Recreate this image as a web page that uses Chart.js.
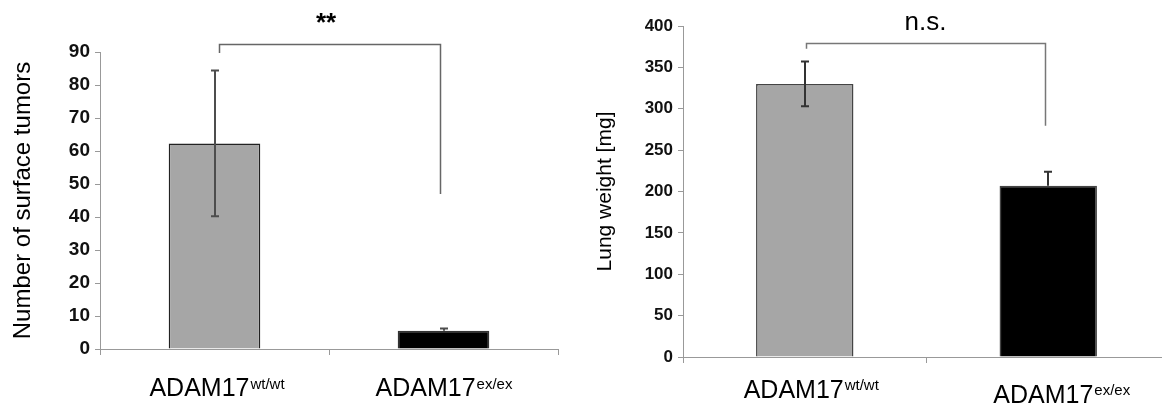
<!DOCTYPE html>
<html>
<head>
<meta charset="utf-8">
<script src="https://cdn.jsdelivr.net/npm/chart.js@4.4.1/dist/chart.umd.min.js"></script>
<style>
  html, body { margin: 0; padding: 0; background: #fff; overflow: hidden; }
  body { width: 1162px; height: 408px; position: relative; }
  .panel { position: absolute; top: 0; height: 408px; }
  #left { left: 0; width: 580px; }
  #right { left: 580px; width: 590px; }
</style>
</head>
<body>
<div class="panel" id="left"><canvas id="tumorChart"></canvas></div>
<div class="panel" id="right"><canvas id="weightChart"></canvas></div>
<script>
// groups and genotypes (drawn as base text + superscript)
const groups = ['ADAM17', 'ADAM17'];
const genotypes = ['wt/wt', 'ex/ex'];
const barColors = ['#a6a6a6', '#000000'];

// surface tumors: mean and error per group
const tumorMeans = [62.3, 5.5];
const tumorErrors = [22.1, 0.7];
const tumorAxis = { min: 0, max: 90, step: 10 };

// lung weight [mg]: mean and error per group
const weightMeans = [330, 207];
const weightErrors = [27, 17];
const weightAxis = { min: 0, max: 400, step: 50 };

const FONT = '"Liberation Sans", Arial, sans-serif';

// error bars, significance bracket and category labels
const extras = {
    id: 'extras',
    afterDatasetsDraw(chart, args, opts) {
        const ctx = chart.ctx;
        const xs = chart.getDatasetMeta(0).data.map(b => b.x);
        const y = chart.scales.y;
        ctx.save();

        ctx.strokeStyle = opts.errorColor;
        ctx.lineWidth = 2;
        opts.means.forEach((m, i) => {
            const top = y.getPixelForValue(m + opts.errors[i]);
            // the lower whisker disappears inside a black bar
            const low = barColors[i] === '#000000' ? m : m - opts.errors[i];
            const bot = y.getPixelForValue(low);
            const x = Math.round(xs[i]);
            ctx.beginPath();
            ctx.moveTo(x, top); ctx.lineTo(x, bot);
            ctx.moveTo(x - 4, top); ctx.lineTo(x + 4, top);
            if (low !== m) { ctx.moveTo(x - 4, bot); ctx.lineTo(x + 4, bot); }
            ctx.stroke();
        });

        const b = opts.bracket;
        const x1 = Math.round(xs[0] + b.dx[0]) + 0.5;
        const x2 = Math.round(xs[1] + b.dx[1]) + 0.5;
        const yTop = Math.round(y.getPixelForValue(b.top)) + 0.5;
        ctx.strokeStyle = b.color;
        ctx.lineWidth = 1.5;
        ctx.beginPath();
        ctx.moveTo(x1, y.getPixelForValue(b.ends[0]));
        ctx.lineTo(x1, yTop);
        ctx.lineTo(x2, yTop);
        ctx.lineTo(x2, y.getPixelForValue(b.ends[1]));
        ctx.stroke();

        ctx.fillStyle = '#000';
        ctx.textAlign = 'center';
        ctx.textBaseline = 'alphabetic';
        ctx.font = b.font;
        ctx.fillText(b.text, (xs[0] + xs[1]) / 2 + b.textDx, y.getPixelForValue(b.textAt));

        const lab = opts.labels;
        ctx.textAlign = 'left';
        groups.forEach((g, i) => {
            ctx.font = lab.font;
            const w1 = ctx.measureText(g).width;
            ctx.font = lab.supFont;
            const w2 = ctx.measureText(genotypes[i]).width;
            const x0 = xs[i] - (w1 + w2) / 2 + lab.dx[i];
            ctx.font = lab.font;
            ctx.fillText(g, x0, lab.baseline[i]);
            ctx.font = lab.supFont;
            ctx.fillText(genotypes[i], x0 + w1 + 1, lab.baseline[i] - lab.raise);
        });
        ctx.restore();
    }
};

function barChart(id, means, errors, axis, yTitle, cfg) {
    return new Chart(document.getElementById(id), {
        type: 'bar',
        data: {
            labels: groups.map((g, i) => g + genotypes[i]),
            datasets: [{
                data: means,
                backgroundColor: barColors,
                borderColor: cfg.barBorders,
                borderWidth: 1.5,
                barPercentage: 0.4,
                categoryPercentage: 1
            }]
        },
        options: {
            responsive: true,
            maintainAspectRatio: false,
            animation: false,
            layout: { padding: { top: cfg.top, right: cfg.right, left: 0, bottom: 0 } },
            plugins: {
                legend: { display: false },
                tooltip: { enabled: false },
                extras: {
                    means: means,
                    errors: errors,
                    errorColor: cfg.errorColor,
                    bracket: cfg.bracket,
                    labels: cfg.labels
                }
            },
            scales: {
                x: {
                    ticks: { display: false },
                    grid: { drawOnChartArea: false, color: '#999', tickLength: 6 },
                    border: { color: '#999' },
                    afterFit: s => { s.height = cfg.xHeight; }
                },
                y: {
                    min: axis.min,
                    max: axis.max,
                    ticks: {
                        stepSize: axis.step,
                        padding: 5,
                        color: '#111',
                        font: { family: FONT, size: cfg.tickSize, weight: 'bold' }
                    },
                    grid: { drawOnChartArea: false, color: '#999', tickLength: 5 },
                    border: { color: '#999' },
                    title: {
                        display: true,
                        text: yTitle,
                        color: '#000',
                        font: { family: FONT, size: cfg.titleSize },
                        padding: { top: cfg.titlePad, bottom: 0 }
                    },
                    afterFit: s => { s.width = cfg.yWidth; }
                }
            }
        },
        plugins: [extras]
    });
}

barChart('tumorChart', tumorMeans, tumorErrors, tumorAxis, 'Number of surface tumors', {
    top: 52, right: 22, xHeight: 59, yWidth: 100,
    tickSize: 19, titleSize: 24, titlePad: 9,
    barBorders: ['#222', '#333'],
    errorColor: '#4d4d4d',
    bracket: { top: 92.3, ends: [89.7, 47], dx: [4, -4], color: '#666',
               text: '**', font: 'bold 26px ' + FONT, textAt: 96.4, textDx: -3 },
    labels: { font: '25px ' + FONT, supFont: '15px ' + FONT,
              baseline: [396, 396], raise: 7, dx: [2, 0] }
});

barChart('weightChart', weightMeans, weightErrors, weightAxis, 'Lung weight [mg]', {
    top: 26, right: 0, xHeight: 51, yWidth: 103,
    tickSize: 17, titleSize: 21, titlePad: 13,
    barBorders: ['#444', '#444'],
    errorColor: '#333',
    bracket: { top: 380, ends: [372.6, 279.4], dx: [1, -3], color: '#777',
               text: 'n.s.', font: '26px ' + FONT, textAt: 395, textDx: -1 },
    labels: { font: '25px ' + FONT, supFont: '15px ' + FONT,
              baseline: [398, 403], raise: 8, dx: [6, 13] }
});
</script>
</body>
</html>
